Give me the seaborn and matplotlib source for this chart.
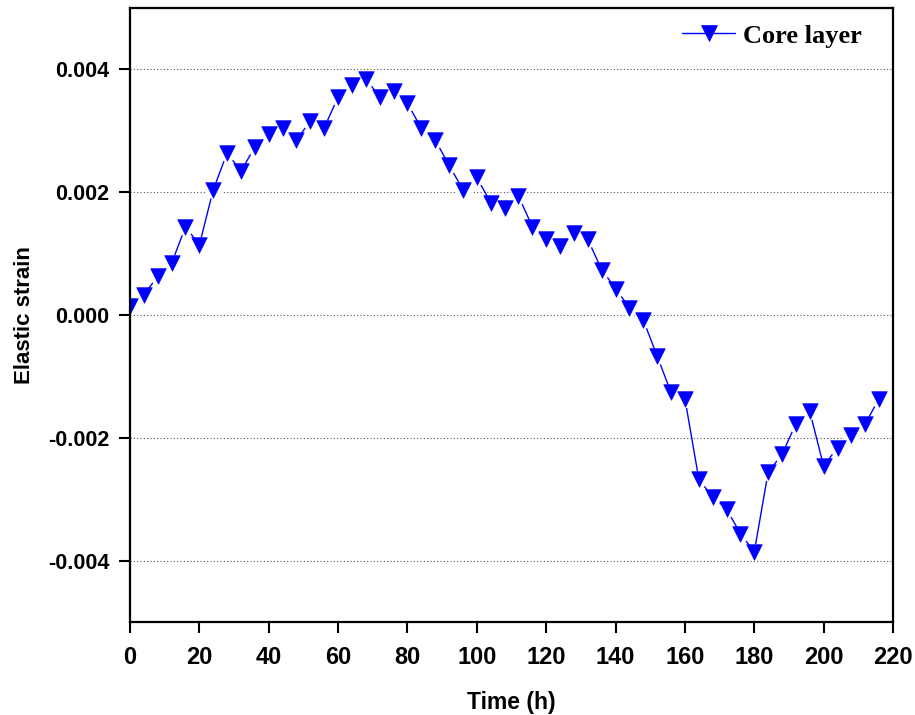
import matplotlib
matplotlib.use("Agg")
import matplotlib.pyplot as plt
import seaborn as sns
import numpy as np
from matplotlib.ticker import FormatStrFormatter
from matplotlib.lines import Line2D

time_h = list(range(0, 217, 4))
core_layer = [0.00015, 0.00033, 0.00063, 0.00084, 0.00144, 0.00114, 0.00204, 0.00264,
              0.00234, 0.00274, 0.00295, 0.00305, 0.00285, 0.00316, 0.00305, 0.00355,
              0.00375, 0.00385, 0.00355, 0.00365, 0.00345, 0.00304, 0.00285, 0.00244,
              0.00204, 0.00224, 0.00183, 0.00174, 0.00194, 0.00144, 0.00123, 0.00113,
              0.00133, 0.00123, 0.00074, 0.00043, 0.00012, -0.00008, -0.00067, -0.00126,
              -0.00136, -0.00267, -0.00297, -0.00316, -0.00356, -0.00386, -0.00256, -0.00227,
              -0.00177, -0.00157, -0.00246, -0.00216, -0.00196, -0.00177, -0.00136]
series_label = "Core layer"
x_ticks = list(range(0, 221, 20))
y_ticks = [-0.004, -0.002, 0.0, 0.002, 0.004]

sns.set_style("white")
plt.rcParams['axes.unicode_minus'] = False
plt.rcParams['text.color'] = 'black'
plt.rcParams['axes.labelcolor'] = 'black'
plt.rcParams['xtick.color'] = 'black'
plt.rcParams['ytick.color'] = 'black'

fig = plt.figure(figsize=(9.15, 7.15), dpi=100)
ax = fig.add_axes([130/915, 1-622/715, (893-130)/915, (622-8)/715])

blue = '#0000FF'
# connecting line
sns.lineplot(x=time_h, y=core_layer, ax=ax, color=blue, linewidth=1.0, zorder=2,
             legend=False)
# white gaps around markers (Origin style)
sns.scatterplot(x=time_h, y=core_layer, ax=ax, color='white', marker='o', s=150,
                linewidth=0, zorder=3, legend=False)
# markers
sns.scatterplot(x=time_h, y=core_layer, ax=ax, color=blue, marker='v', s=125,
                edgecolor=blue, linewidth=0.5, zorder=4, legend=False)

ax.set_xlim(0, 220)
ax.set_ylim(-0.005, 0.005)
ax.set_xticks(x_ticks)
ax.set_yticks(y_ticks)
ax.yaxis.set_major_formatter(FormatStrFormatter('%.3f'))
ax.yaxis.grid(True, linestyle=(0, (1, 2)), color='#555555', linewidth=0.8, zorder=1)
ax.xaxis.grid(False)
ax.set_axisbelow(True)

for s in ax.spines.values():
    s.set_linewidth(1.6)
    s.set_color('black')
    s.set_zorder(5)

ax.tick_params(axis='both', direction='out', length=8, width=1.5, colors='black',
               labelcolor='black', bottom=True, left=True, top=False, right=False)
ax.tick_params(axis='y', pad=7)
ax.tick_params(axis='x', pad=9)

for lab in ax.get_yticklabels():
    lab.set_fontfamily('Liberation Sans')
    lab.set_fontweight('bold')
    lab.set_fontsize(15.5)
    lab.set_color('black')
for lab in ax.get_xticklabels():
    lab.set_fontfamily('Liberation Sans')
    lab.set_fontweight('bold')
    lab.set_fontsize(17)
    lab.set_color('black')

ax.set_xlabel('Time (h)', fontsize=16.5, fontweight='bold', color='black',
              fontfamily='Liberation Sans', labelpad=16)
ax.set_ylabel('Elastic strain', fontsize=16, fontweight='bold', color='black',
              fontfamily='Liberation Sans', labelpad=9)

handle = Line2D([], [], color=blue, linewidth=1.0, marker='v', markersize=11,
                markeredgecolor=blue, markeredgewidth=0.5)
leg = ax.legend([handle], [series_label], loc='center right',
                bbox_to_anchor=(0.9594, 0.9544), frameon=False,
                borderaxespad=0, borderpad=0, handlelength=2.0, handletextpad=0.3,
                numpoints=1, labelcolor='black',
                prop={'family': 'Liberation Serif', 'weight': 'bold', 'size': 19})

fig.savefig('out.png', dpi=100)
